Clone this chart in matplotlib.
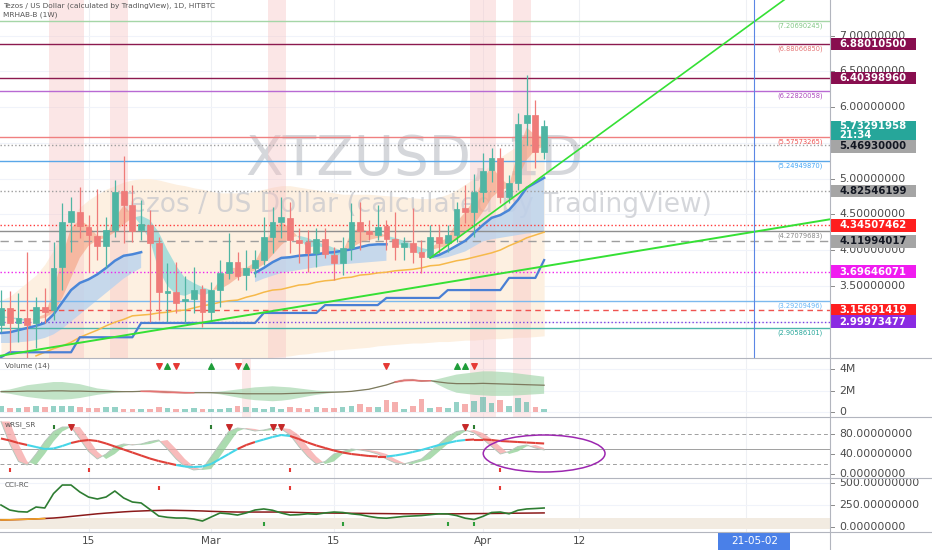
import numpy as np
import matplotlib.pyplot as plt
import matplotlib.transforms as mtransforms
from matplotlib.patches import Rectangle, Ellipse
from matplotlib.collections import LineCollection

W, H = 932, 550

# daily candles (Feb 5 .. Apr 8)
opens = [2.951,3.189,2.979,3.049,2.979,3.203,3.161,3.762,4.392,4.531,4.322,4.196,4.056,4.280,4.825,4.629,
         4.280,4.350,4.098,3.399,3.413,3.287,3.315,3.455,3.133,3.441,3.678,3.832,3.650,3.748,3.860,4.182,
         4.392,4.448,4.140,4.112,3.958,4.154,3.930,3.818,4.028,4.392,4.266,4.210,4.336,4.154,4.042,4.098,
         3.972,3.902,4.182,4.098,4.210,4.587,4.531,4.811,5.119,5.287,4.741,4.937,5.776,5.888,5.371]
highs = [3.441,3.427,3.399,3.972,3.343,3.469,4.112,4.657,4.741,4.881,4.490,4.853,4.462,4.979,5.315,4.909,
         4.699,4.559,4.182,3.818,3.832,3.636,3.762,3.510,3.552,3.860,4.238,3.972,4.000,4.000,4.462,4.601,
         4.741,4.671,4.308,4.280,4.308,4.308,4.042,4.182,4.657,4.671,4.420,4.629,4.420,4.531,4.182,4.587,
         4.140,4.350,4.350,4.350,4.671,4.909,5.063,5.357,5.427,5.427,5.049,5.916,6.448,6.098,5.818]
lows = [2.853,2.573,2.713,2.490,2.629,2.979,3.021,3.441,3.972,4.168,3.692,3.860,3.748,4.182,4.098,4.112,
        4.140,2.993,3.021,2.993,3.119,2.979,3.119,2.923,2.993,3.203,3.594,3.580,3.441,3.622,3.790,3.958,
        4.168,3.958,3.818,3.692,3.762,3.888,3.580,3.650,3.860,4.000,4.140,4.140,4.000,3.860,3.860,3.818,
        3.678,3.888,3.958,3.972,4.112,4.378,4.182,4.671,4.951,4.657,4.657,4.839,5.469,5.147,5.273]
closes = [3.189,2.979,3.049,2.951,3.203,3.133,3.748,4.392,4.545,4.336,4.210,4.056,4.280,4.811,4.629,4.266,
          4.364,4.098,3.413,3.427,3.259,3.315,3.441,3.133,3.441,3.678,3.832,3.636,3.748,3.860,4.182,4.392,
          4.462,4.140,4.098,3.958,4.154,3.944,3.818,4.028,4.392,4.266,4.224,4.322,4.154,4.042,4.098,3.972,
          3.902,4.182,4.098,4.210,4.573,4.531,4.811,5.105,5.287,4.741,4.937,5.762,5.888,5.371,5.733]

nan = np.nan
blue_ma = [2.84,2.85,2.88,2.91,2.94,2.98,3.10,3.27,3.44,3.54,3.59,3.66,3.75,3.85,3.92,3.94,3.97,
           nan,nan,nan,nan,nan,nan,nan,nan,nan,nan,nan,nan,
           3.68,3.75,3.83,3.89,3.90,3.92,3.93,3.94,3.96,3.97,3.99,4.01,4.04,4.07,4.08,4.08,
           nan,nan,nan,nan,
           3.90,3.93,3.99,4.06,4.13,4.24,4.35,4.45,4.49,4.56,4.70,4.87,4.94,5.01]
blue_lo = [2.70,2.70,2.71,2.72,2.74,2.77,2.82,2.90,3.00,3.10,3.20,3.30,3.40,3.50,3.60,3.68,3.75,
           nan,nan,nan,nan,nan,nan,nan,nan,nan,nan,nan,nan,
           3.55,3.60,3.64,3.68,3.70,3.72,3.74,3.76,3.78,3.79,3.80,3.81,3.82,3.83,3.84,3.85,
           nan,nan,nan,nan,
           3.88,3.88,3.90,3.94,3.98,4.05,4.12,4.15,4.17,4.19,4.21,4.23,4.24,4.25]
orange_ma = [nan,nan,nan,nan,2.52,2.57,2.62,2.66,2.71,2.78,2.83,2.88,2.94,2.99,3.03,3.08,3.09,3.10,3.12,
             3.13,3.15,3.16,3.19,3.22,3.24,3.27,3.29,3.30,3.34,3.37,3.41,3.44,3.45,3.48,3.51,3.52,3.55,
             3.57,3.58,3.61,3.62,3.65,3.66,3.68,3.69,3.71,3.72,3.73,3.75,3.78,3.79,3.82,3.85,3.87,3.90,
             3.93,3.96,4.00,4.06,4.11,4.17,4.21,4.25]
weekly = [2.50,2.57,2.57,2.57,2.57,2.57,2.57,2.57,2.57,2.78,2.78,2.78,2.78,2.78,2.78,2.78,
          2.98,2.98,2.98,2.98,2.98,2.98,2.98,2.98,2.98,2.98,2.98,2.98,2.98,2.98,
          3.12,3.12,3.12,3.12,3.12,3.12,3.12,3.23,3.23,3.23,3.23,3.23,3.23,3.23,
          3.33,3.33,3.33,3.33,3.33,3.33,3.33,3.44,3.44,3.44,3.44,3.44,3.44,3.44,
          3.61,3.61,3.61,3.61,3.86]
rib_fast = [3.05,3.05,3.02,3.01,3.05,3.10,3.41,3.92,4.31,4.42,4.34,4.20,4.20,4.45,4.62,4.50,4.34,4.14,
            3.72,3.50,3.38,3.36,3.41,3.36,3.41,3.58,3.75,3.75,3.75,3.83,4.07,4.28,4.39,4.31,4.17,4.03,
            4.06,4.03,3.89,3.97,4.25,4.31,4.25,4.25,4.20,4.08,4.07,4.00,3.92,4.03,4.11,4.17,4.39,4.53,
            4.70,4.98,5.17,5.01,4.90,5.37,5.71,5.61,5.57]
rib_slow = [3.08,3.06,3.05,3.03,3.03,3.05,3.13,3.33,3.61,3.89,4.06,4.14,4.17,4.25,4.36,4.45,4.48,4.42,
            4.25,4.00,3.78,3.61,3.54,3.48,3.44,3.45,3.52,3.61,3.66,3.72,3.80,3.93,4.07,4.17,4.20,4.17,
            4.11,4.08,4.03,3.99,4.03,4.10,4.14,4.17,4.20,4.17,4.13,4.08,4.03,4.00,4.03,4.06,4.14,4.25,
            4.36,4.53,4.73,4.84,4.87,5.01,5.26,5.40,5.45]
env_hi = [3.30,3.35,3.45,3.55,3.65,3.80,4.00,4.25,4.45,4.60,4.70,4.78,4.85,4.90,4.95,4.98,5.00,5.00,
          4.98,4.95,4.92,4.90,4.87,4.85,4.82,4.80,4.80,4.80,4.80,4.82,4.85,4.88,4.90,4.90,4.88,4.86,
          4.84,4.82,4.80,4.78,4.78,4.78,4.78,4.77,4.76,4.75,4.74,4.73,4.72,4.72,4.74,4.78,4.84,4.92,
          5.00,5.10,5.20,5.30,5.38,5.46,5.54,5.60,5.64]
env_lo = [2.45,2.45,2.45,2.45,2.45,2.45,2.45,2.45,2.45,2.45,2.45,2.45,2.45,2.45,2.45,2.45,2.45,2.45,
          2.45,2.45,2.45,2.45,2.45,2.45,2.45,2.45,2.45,2.45,2.45,2.45,2.45,2.50,2.51,2.52,2.54,2.55,
          2.57,2.58,2.60,2.61,2.62,2.63,2.64,2.66,2.67,2.68,2.69,2.70,2.70,2.71,2.72,2.72,2.73,2.74,
          2.74,2.75,2.76,2.76,2.77,2.78,2.78,2.79,2.80]
alert_days = [(6, 9), (13, 14), (31, 32), (54, 56), (59, 60)]
trend_steep = ([49, 95], [3.89, 8.00])
trend_flat = ([-0.11, 94.63], [2.52, 4.43])

# horizontal levels
lvl_vals = [7.20690245, 6.88010500, 6.40398960, 6.22820058, 5.57573265, 5.46930000, 5.24949870, 4.82546199,
            4.34507462, 4.27079683, 4.11994017, 3.69646071, 3.29209496, 3.15691419, 2.99973477, 2.90586101]
lvl_colors = ['#a5d6a7', '#8c1a4f', '#8c1a4f', '#b86ad3', '#f08080', '#9e9e9e', '#5aa7e8', '#9e9e9e',
              '#ff3b3b', '#8f8f8f', '#9e9e9e', '#ee22ee', '#7cb9ee', '#ef5350', '#7b3fe4', '#4db6ac']
lvl_styles = ['-', '-', '-', '-', '-', ':', '-', ':', ':', '-', (0, (6, 4)), ':', '-', (0, (4, 3)), ':', '-']
note_vals = [7.20690245, 6.88066850, 6.22820058, 5.57573265, 5.24949870, 4.27079683, 3.29209496, 2.90586101]
note_colors = ['#81c784', '#e57373', '#ab47bc', '#ef5350', '#42a5f5', '#888888', '#64b5f6', '#26a69a']
badge_vals = [6.88010500, 6.40398960, 5.46930000, 4.82546199, 4.34507462, 4.11994017, 3.69646071,
              3.15691419, 2.99973477]
badge_bg = ['#880e4f', '#880e4f', '#a5a5a5', '#a5a5a5', '#ff1e1e', '#a5a5a5', '#f01cf0', '#ff1e1e', '#8a2be2']
badge_fg = ['white', 'white', '#131722', '#131722', 'white', '#131722', 'white', 'white', 'white']
last_price = 5.73291958
last_time = '21:34'
price_ticks = [3.5, 4.0, 4.5, 5.0, 6.0, 6.5, 7.0]
grid_prices = [3.0, 3.5, 4.0, 4.5, 5.0, 5.5, 6.0, 6.5, 7.0]

# volume pane
vols = [0.55,0.35,0.35,0.5,0.6,0.45,0.55,0.6,0.6,0.5,0.35,
        0.35,0.5,0.5,0.3,0.3,0.3,0.25,0.45,0.35,0.3,0.3,0.35,0.3,
        0.3,0.3,0.35,0.55,0.45,0.35,0.3,0.45,0.3,0.5,0.4,0.3,0.45,0.35,0.4,0.5,0.6,
        0.7,0.5,0.45,1.1,0.9,0.3,0.6,1.2,0.4,0.5,0.4,0.9,0.7,1.0,1.4,0.8,1.1,0.6,1.3,0.9,0.5,0.3]
osc_a = [2.0,2.1,2.3,2.5,2.6,2.7,2.8,2.8,2.7,2.6,2.4,2.2,2.1,2.0,1.95,1.9,1.85,1.8,1.75,1.7,
         1.7,1.7,1.75,1.8,1.85,1.9,2.0,2.1,2.2,2.3,2.35,2.4,2.35,2.3,2.2,2.1,2.0,1.95,1.9,1.9,
         1.95,2.05,2.15,2.35,2.55,2.7,2.8,2.85,2.8,2.9,3.1,3.3,3.5,3.6,3.7,3.8,3.8,3.75,3.7,3.6,
         3.5,3.4,3.3]
osc_b = [1.8,1.7,1.55,1.4,1.3,1.2,1.15,1.15,1.2,1.3,1.45,1.6,1.7,1.8,1.85,1.9,2.0,2.05,2.05,2.0,
         1.95,1.9,1.85,1.8,1.75,1.65,1.5,1.35,1.2,1.1,1.05,1.0,1.05,1.15,1.3,1.45,1.6,1.7,1.8,1.85,
         1.9,2.0,2.1,2.3,2.5,2.9,3.1,3.1,3.0,2.95,2.5,2.1,1.8,1.7,1.6,1.55,1.5,1.5,1.5,1.55,
         1.6,1.65,1.7]
vol_dn_marks = [18, 20, 27, 44, 54]
vol_up_marks = [19, 24, 28, 52, 53]

# wRSI pane
rsi_smooth = [71,67,62,58,54,50,51,56,62,66,68,66,61,55,49,43,37,31,26,22,18,15,14,15,20,30,40,50,58,64,
              69,74,78,76,70,63,57,52,47,43,40,38,36,35,35,37,40,44,48,53,58,62,66,68,69,69,68,66,65,64,
              63,62,61]
rsi_colors = 'rrr' + 'ccccc' + 'rrrrrrrrrrrr' + 'ccccccc' + 'rr' + 'cccc' + 'rrrrrrrrrrr' + 'ccccccccc' + 'rrrrrrrrrr'
rsi_raw = [105,60,25,18,40,65,85,94,94,70,45,30,40,55,60,58,60,65,68,50,30,15,8,10,35,60,85,92,90,86,
           88,92,90,78,55,35,20,25,40,45,50,48,45,40,30,22,20,25,30,45,60,75,85,88,82,70,55,40,45,55,
           58,52,48]
rsi_dn_marks = [8, 26, 31, 32, 53]
rsi_up_ticks = [6, 24, 54]
rsi_low_ticks = [1, 10, 33, 57]

# CCI pane
cci = [250,193,175,170,227,216,380,477,477,398,340,318,341,409,330,284,273,200,125,110,102,102,90,68,
       114,159,150,136,160,193,205,190,159,136,140,150,145,160,170,165,150,140,120,105,100,110,120,125,
       130,140,150,148,130,100,85,120,165,170,150,190,205,210,216]
cci_sig = [80,82,85,88,92,97,102,110,120,130,140,150,158,165,172,178,182,186,188,190,189,187,185,182,
           178,175,172,170,170,170,170,170,170,168,165,162,160,159,158,157,156,155,154,153,152,151,150,
           150,150,150,150,150,150,151,152,153,154,155,156,157,158,159,160]
cci_red_ticks = [18, 33, 57]
cci_green_ticks = [30, 39, 51, 54]

x_ticks = [10, 24, 38, 55, 66]
x_labels = ['15', 'Mar', '15', 'Apr', '12']
grid_x = [10, 24, 38, 55, 66, 85]
cross_x = 86
cross_label = '21-05-02'

UP, DN = '#4fb5a3', '#ef7b79'
TXT = '#4a4a4a'
idx = np.arange(len(closes))
XLIM = (-0.11, 94.63)

fig = plt.figure(figsize=(W / 100, H / 100), dpi=100)


def px_axes(x0, y0, x1, y1):
    return fig.add_axes([x0 / W, 1 - y1 / H, (x1 - x0) / W, (y1 - y0) / H])


ax = px_axes(0, 0, 830, 358)
ax_v = px_axes(0, 358, 830, 417)
ax_w = px_axes(0, 417, 830, 478)
ax_c = px_axes(0, 478, 830, 532)
r_main = px_axes(830, 0, 932, 358)
r_v = px_axes(830, 358, 932, 417)
r_w = px_axes(830, 417, 932, 478)
r_c = px_axes(830, 478, 932, 532)

ax.set_ylim(2.490, 7.497)
ax_v.set_ylim(-0.476, 5.05)
ax_w.set_ylim(-8, 114)
ax_c.set_ylim(-56.8, 556.8)

for a in (ax, ax_v, ax_w, ax_c):
    a.set_xlim(*XLIM)
    for s in a.spines.values():
        s.set_visible(False)
    a.set_xticks([])
    a.set_yticks([])
    for gx in grid_x:
        a.axvline(gx, color='#eef0f4', lw=0.8, zorder=0)
for a, b in ((r_main, ax), (r_v, ax_v), (r_w, ax_w), (r_c, ax_c)):
    a.set_xlim(0, 102)
    a.set_ylim(b.get_ylim())
    a.axis('off')

# ---------------- main pane ----------------
for p in grid_prices:
    ax.axhline(p, color='#f0f3fa', lw=0.8, zorder=0)
ax.fill_between(idx, env_lo, env_hi, color='#fdf0e1', lw=0, zorder=1)
for a0, a1 in alert_days:
    ax.axvspan(a0 - 0.5, a1 + 0.5, color='#f7c2c2', alpha=0.4, lw=0, zorder=1.5)
ax.text(0.5, 0.553, 'XTZUSD, 1D', transform=ax.transAxes, ha='center', va='center',
        fontsize=39.5, color='#c4c6cc', alpha=0.7, zorder=1.2)
ax.text(0.5, 0.427, 'Tezos / US Dollar (calculated by TradingView)', transform=ax.transAxes,
        ha='center', va='center', fontsize=19, color='#c4c6cc', alpha=0.7, zorder=1.2)

ax.fill_between(idx, blue_lo, blue_ma, color='#b9d2ee', alpha=0.8, lw=0, zorder=2)
fast = np.array(rib_fast)
slow = np.array(rib_slow)
ax.fill_between(idx, fast, slow, where=fast >= slow, interpolate=True, color='#f49a78', alpha=0.55, lw=0, zorder=2.2)
ax.fill_between(idx, fast, slow, where=fast < slow, interpolate=True, color='#86d6d8', alpha=0.7, lw=0, zorder=2.2)

for v, c, ls in zip(lvl_vals, lvl_colors, lvl_styles):
    ax.axhline(v, color=c, ls=ls, lw=1.0, zorder=3)
for v, c in zip(note_vals, note_colors):
    ax.text(93.8, v - 0.02, '(%.8f)' % v, color=c, fontsize=4.8, ha='right', va='top', zorder=3)

ax.plot(idx, orange_ma, color='#f6b94a', lw=1.1, zorder=3.5)
ax.plot(idx, weekly, color='#4a7fd4', lw=1.6, zorder=3.6)
ax.plot(idx, blue_ma, color='#4a86d8', lw=1.8, zorder=3.7)

for i in idx:
    o, h, l, c = opens[i], highs[i], lows[i], closes[i]
    col = UP if c >= o else DN
    ax.vlines(i, l, h, color=col, lw=0.9, zorder=4)
    ax.add_patch(Rectangle((i - 0.33, min(o, c)), 0.66, max(abs(c - o), 0.012),
                           facecolor=col, edgecolor=col, lw=0.5, zorder=4.1))

ax.plot(*trend_steep, color='#35e035', lw=1.2, zorder=5)
ax.plot(*trend_flat, color='#35e035', lw=1.4, zorder=5)
ax.axvline(cross_x, color='#5b86e5', lw=0.8, zorder=5)

# price scale
for p in grid_prices:
    r_main.plot([0, 4], [p, p], color='#8a8a8a', lw=0.7)
for p in price_ticks:
    r_main.text(9, p, '%.8f' % p, fontsize=7.8, color=TXT, va='center', ha='left')
bh = 12.5 / 71.5
for v, bg, fg in zip(badge_vals, badge_bg, badge_fg):
    yc = v - 0.02 if v == 5.46930000 else v
    r_main.add_patch(Rectangle((1, yc - bh / 2), 85, bh, facecolor=bg, edgecolor='none', zorder=5))
    r_main.text(9, yc, '%.8f' % v, fontsize=7.3, color=fg, fontweight='bold', va='center', ha='left', zorder=6)
r_main.add_patch(Rectangle((1, last_price - 0.20), 85, 0.265, facecolor='#26a69a', edgecolor='none', zorder=5))
r_main.text(9, last_price + 0.005, '%.8f' % last_price, fontsize=7.3, color='white', fontweight='bold',
            va='center', ha='left', zorder=6)
r_main.text(9, last_price - 0.12, last_time, fontsize=7.3, color='white', fontweight='bold',
            va='center', ha='left', zorder=6)

fig.text(3 / W, 1 - 6 / H, 'Tezos / US Dollar (calculated by TradingView), 1D, HITBTC',
         fontsize=5.3, color='#555555', va='center')
fig.text(3 / W, 1 - 15 / H, 'MRHAB-B (1W)', fontsize=5.3, color='#555555', va='center')

# ---------------- volume pane ----------------
for p in (0, 2, 4):
    ax_v.axhline(p, color='#f0f3fa', lw=0.8, zorder=0)
for a0, a1 in ((28, 28), (54, 56), (59, 60)):
    ax_v.axvspan(a0 - 0.5, a1 + 0.5, color='#f7c2c2', alpha=0.35, lw=0, zorder=0.5)
vcols = [UP if closes[i] >= opens[i] else DN for i in idx]
ax_v.bar(idx, vols, width=0.65, color=vcols, alpha=0.6, zorder=2)
oa = np.array(osc_a)
ob = np.array(osc_b)
ax_v.fill_between(idx, oa, ob, where=oa >= ob, interpolate=True, color='#a8d8b0', alpha=0.7, lw=0, zorder=1)
ax_v.fill_between(idx, oa, ob, where=oa < ob, interpolate=True, color='#f6b9b9', alpha=0.7, lw=0, zorder=1)
mid = (oa + ob) / 2
ax_v.plot(idx, mid, color='#7e7a5e', lw=0.9, zorder=3)
ax_v.plot(idx, np.where(oa < ob, mid, np.nan), color='#e57373', lw=1.0, zorder=3.1)
ax_v.scatter(vol_dn_marks, [4.3] * len(vol_dn_marks), marker='v', s=16, color='#e53935', zorder=4)
ax_v.scatter(vol_up_marks, [4.3] * len(vol_up_marks), marker='^', s=16, color='#1f9d3a', zorder=4)
ax_v.text(5 / 830, 0.87, 'Volume (14)', transform=ax_v.transAxes, fontsize=5.3, color='#555555', va='center')
for p, lab in ((0, '0'), (2, '2M'), (4, '4M')):
    r_v.plot([0, 4], [p, p], color='#8a8a8a', lw=0.7)
    r_v.text(9, p, lab, fontsize=7.8, color=TXT, va='center', ha='left')

# ---------------- wRSI pane ----------------
ax_w.axhline(80, color='#a0a0a0', ls=(0, (4, 3)), lw=0.7, zorder=1)
ax_w.axhline(20, color='#a0a0a0', ls=(0, (4, 3)), lw=0.7, zorder=1)
ax_w.axhline(50, color='#a0a0a0', lw=0.7, zorder=1)
raw = np.array(rsi_raw, dtype=float)
prev = np.r_[raw[0], raw[:-1]]
ax_w.fill_between(idx, raw, prev, where=raw >= prev, interpolate=True, color='#8fcf94', alpha=0.75, lw=0, zorder=2)
ax_w.fill_between(idx, raw, prev, where=raw < prev, interpolate=True, color='#f6a5a5', alpha=0.75, lw=0, zorder=2)
ax_w.plot(idx, raw, color='#b8c7bc', lw=0.7, zorder=2.5)
segs = [[(i, rsi_smooth[i]), (i + 1, rsi_smooth[i + 1])] for i in range(len(rsi_smooth) - 1)]
seg_cols = ['#e0413a' if ch == 'r' else '#45d6e8' for ch in rsi_colors[:-1]]
ax_w.add_collection(LineCollection(segs, colors=seg_cols, linewidths=1.5, zorder=3))
ax_w.scatter(rsi_dn_marks, [95] * len(rsi_dn_marks), marker='v', s=16, color='#c62828', zorder=4)
ax_w.scatter(rsi_up_ticks, [95] * len(rsi_up_ticks), marker='|', s=12, color='#2e7d32', zorder=4)
ax_w.scatter(rsi_low_ticks, [8] * len(rsi_low_ticks), marker='|', s=12, color='#e53935', zorder=4)
ax_w.add_patch(Ellipse((62, 41), 13.9, 74, fill=False, edgecolor='#9c27b0', lw=1.1, zorder=5))
ax_w.text(5 / 830, 0.88, 'wRSI_SR', transform=ax_w.transAxes, fontsize=5.3, color='#555555', va='center')
for p in (0, 40, 80):
    r_w.plot([0, 4], [p, p], color='#8a8a8a', lw=0.7)
    r_w.text(9, p, '%.8f' % p, fontsize=7.8, color=TXT, va='center', ha='left')

# ---------------- CCI pane ----------------
for p in (0, 250, 500):
    ax_c.axhline(p, color='#f0f3fa', lw=0.8, zorder=0)
ax_c.axhspan(-25, 100, color='#f2ebe1', lw=0, zorder=0.5)
ax_c.plot(idx, cci_sig, color='#8b1a1a', lw=1.1, zorder=2)
ax_c.plot(idx[:6], cci_sig[:6], color='#f5a623', lw=1.1, zorder=2.1)
ax_c.plot(idx, cci, color='#2e7d32', lw=1.2, zorder=3)
ax_c.scatter(cci_red_ticks, [440] * len(cci_red_ticks), marker='|', s=12, color='#e53935', zorder=4)
ax_c.scatter(cci_green_ticks, [35] * len(cci_green_ticks), marker='|', s=12, color='#2e9d3a', zorder=4)
ax_c.text(5 / 830, 0.87, 'CCI-RC', transform=ax_c.transAxes, fontsize=5.3, color='#555555', va='center')
for p in (0, 250, 500):
    r_c.plot([0, 4], [p, p], color='#8a8a8a', lw=0.7)
    r_c.text(9, p, '%.8f' % p, fontsize=7.8, color=TXT, va='center', ha='left')

ax_c.set_xticks(x_ticks)
ax_c.set_xticklabels(x_labels, fontsize=7.5, color=TXT)
ax_c.tick_params(axis='x', length=0, pad=3)
blend = mtransforms.blended_transform_factory(ax_c.transData, ax_c.transAxes)
ax_c.add_patch(Rectangle((cross_x - 4.1, -0.33), 8.2, 0.31, transform=blend, clip_on=False,
                         facecolor='#4a80e8', edgecolor='none', zorder=6))
ax_c.text(cross_x, -0.17, cross_label, transform=blend, ha='center', va='center', fontsize=7.5,
          color='white', zorder=7, clip_on=False)

# pane separators and price scale border
for yy in (358, 417, 478, 532):
    fig.add_artist(plt.Line2D([0, 1], [1 - yy / H] * 2, transform=fig.transFigure, color='#b2b5be', lw=0.8))
fig.add_artist(plt.Line2D([830 / W] * 2, [0, 1], transform=fig.transFigure, color='#b2b5be', lw=0.8))

fig.savefig('out.png', dpi=100)
